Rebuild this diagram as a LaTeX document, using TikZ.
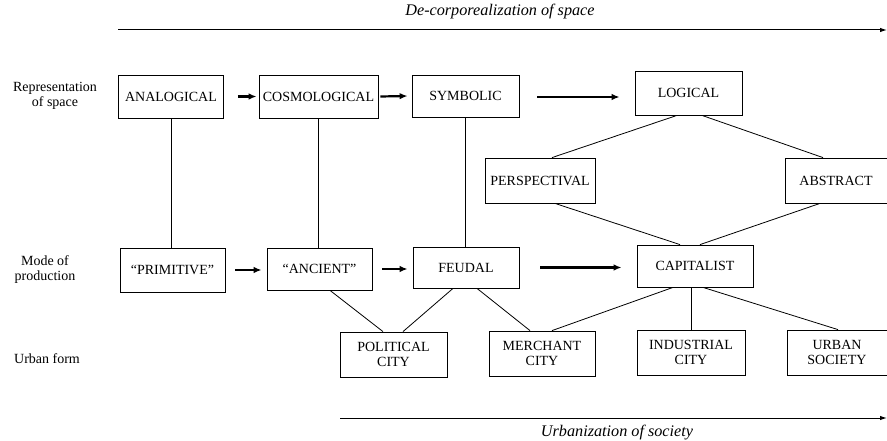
\documentclass[tikz,border=0pt]{standalone}
\usepackage{fontspec}
\setmainfont{Liberation Serif}
\usetikzlibrary{arrows.meta,calc}
\begin{document}
\begin{tikzpicture}[x=1pt,y=-1pt,
  box/.style={draw,line width=0.8pt,align=center,inner sep=0pt,
    font=\fontsize{14}{15}\selectfont},
  lbl/.style={align=center,inner sep=0pt,font=\fontsize{14}{15}\selectfont},
  axislbl/.style={inner sep=0pt,font=\fontsize{16.2}{18}\selectfont\itshape},
  link/.style={line width=0.8pt},
  stepper/.style={line width=2.2pt,-{Latex[length=8pt,width=6.5pt]}},
  axis/.style={line width=1pt,-{Latex[length=7pt,width=4.5pt]}}]
\useasboundingbox (0,0) rectangle (887,441);

% row labels
\node[lbl] (lrep) at (55,96) {Representation\\of space};
\node[lbl] (lmode) at (45,270) {Mode of\\production};
\node[lbl] (lurban) at (47,359) {Urban form};

% representations of space
\node[box,minimum width=105,minimum height=43] (analogical) at (171,96.5) {ANALOGICAL};
\node[box,minimum width=119,minimum height=43] (cosmological) at (318.5,96.5) {COSMOLOGICAL};
\node[box,minimum width=107,minimum height=42] (symbolic) at (465.5,96) {SYMBOLIC};
\node[box,minimum width=107,minimum height=44] (logical) at (688.5,93) {LOGICAL};
\node[box,minimum width=110,minimum height=45] (perspectival) at (540,180.5) {PERSPECTIVAL};
\node[box,minimum width=102,minimum height=45] (abstract) at (836,180.5) {ABSTRACT};

% modes of production
\node[box,minimum width=105,minimum height=44] (primitive) at (172.5,270) {``PRIMITIVE''};
\node[box,minimum width=105,minimum height=42] (ancient) at (319.5,269) {``ANCIENT''};
\node[box,minimum width=106,minimum height=41] (feudal) at (466,267.5) {FEUDAL};
\node[box,minimum width=116,minimum height=42] (capitalist) at (695,266) {CAPITALIST};

% urban forms
\node[box,minimum width=107,minimum height=45] (political) at (393.5,354.5) {POLITICAL\\CITY};
\node[box,minimum width=106,minimum height=45] (merchant) at (542,353.5) {MERCHANT\\CITY};
\node[box,minimum width=108,minimum height=45] (industrial) at (691,352.5) {INDUSTRIAL\\CITY};
\node[box,minimum width=100,minimum height=45] (urban) at (837,352.5) {URBAN\\SOCIETY};

% succession arrows
\draw[stepper] ([xshift=14]analogical.east) -- ([xshift=-2]cosmological.west);
\draw[stepper] ([xshift=2]cosmological.east) -- ([xshift=-4]symbolic.west);
\draw[stepper] ([xshift=18,yshift=-1]symbolic.east) -- ([xshift=-15,yshift=-1]symbolic.east -| logical.west);
\draw[stepper] ([xshift=10]primitive.east) -- ([xshift=-5]primitive.east -| ancient.west);
\draw[stepper] ([xshift=10]ancient.east) -- ([xshift=-5]ancient.east -| feudal.west);
\draw[stepper] ([xshift=21]feudal.east) -- ([xshift=-15]feudal.east -| capitalist.west);

% vertical links between space and production
\draw[link] (analogical.south) -- (analogical.south |- primitive.north);
\draw[link] (cosmological.south) -- (cosmological.south |- ancient.north);
\draw[link] (symbolic.south) -- (symbolic.south |- feudal.north);

% the logical branch
\draw[link] ([xshift=-11.5]logical.south) -- ([xshift=12]perspectival.north);
\draw[link] ([xshift=13.5]logical.south) -- ([xshift=-13]abstract.north);
\draw[link] ([xshift=15]perspectival.south) -- ([xshift=-15]capitalist.north);
\draw[link] ([xshift=-16]abstract.south) -- ([xshift=5]capitalist.north);

% production to urban form
\draw[link] ([xshift=10.5]ancient.south) -- ([xshift=-10.5]political.north);
\draw[link] ([xshift=-13]feudal.south) -- ([xshift=9.5]political.north);
\draw[link] ([xshift=11]feudal.south) -- ([xshift=-12]merchant.north);
\draw[link] ([xshift=-22]capitalist.south) -- ([xshift=10]merchant.north);
\draw[link] ([xshift=-4]capitalist.south) -- ([xshift=-4]capitalist.south |- industrial.north);
\draw[link] ([xshift=8]capitalist.south) -- ([xshift=1]urban.north);

% long-term axes
\coordinate (topstart) at (118,30);
\coordinate (topend) at (887,30);
\draw[axis] (topstart) -- (topend);
\node[axislbl] (toplbl) at (500,12) {De-corporealization of space};

\coordinate (botstart) at (340,418);
\coordinate (botend) at (887,418);
\draw[axis] (botstart) -- (botend);
\node[axislbl] (botlbl) at (617,433) {Urbanization of society};
\end{tikzpicture}
\end{document}
